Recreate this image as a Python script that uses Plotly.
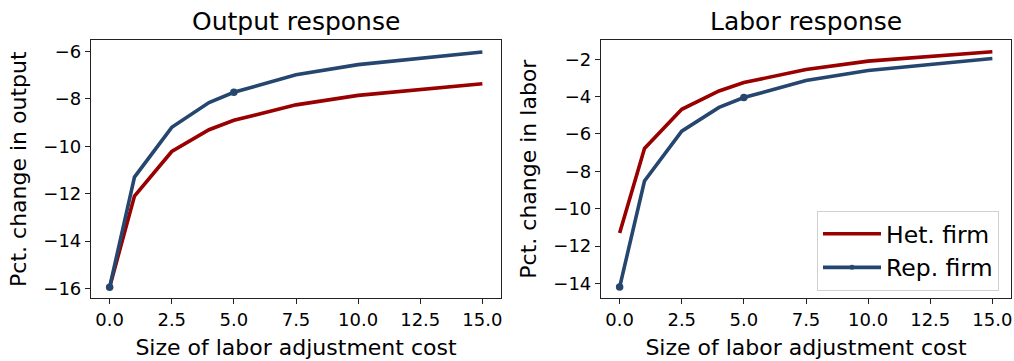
import plotly.graph_objects as go

# Size of the labor adjustment cost (x) and percentage responses (y)
cost = [0, 1, 2.5, 4, 5, 7.5, 10, 15]
output_het = [-15.95, -12.1, -10.22, -9.3, -8.9, -8.25, -7.85, -7.36]
output_rep = [-15.95, -11.3, -9.2, -8.15, -7.72, -6.98, -6.55, -6.02]
labor_het = [-11.3, -6.78, -4.68, -3.7, -3.25, -2.55, -2.1, -1.6]
labor_rep = [-14.2, -8.52, -5.85, -4.58, -4.05, -3.14, -2.6, -1.96]

x_ticks = [0, 2.5, 5, 7.5, 10, 12.5, 15]
output_ticks = [-16, -14, -12, -10, -8, -6]
labor_ticks = [-14, -12, -10, -8, -6, -4, -2]

series_names = ["Het. firm", "Rep. firm"]

RED = "#990000"
BLUE = "#25466f"
FONT = "DejaVu Sans"
W, H = 1014, 361
LW = 3.6

# rep-firm markers shown on every 4th point
rep_idx = [i for i in range(len(cost)) if i % 4 == 0]

fig = go.Figure()


def add_panel(het, rep, xa, ya):
    fig.add_trace(go.Scatter(
        x=cost, y=het, mode="lines", name=series_names[0],
        line=dict(color=RED, width=LW), xaxis=xa, yaxis=ya,
        showlegend=False))
    fig.add_trace(go.Scatter(
        x=cost, y=rep, mode="lines", name=series_names[1],
        line=dict(color=BLUE, width=LW), xaxis=xa, yaxis=ya,
        showlegend=False))
    fig.add_trace(go.Scatter(
        x=[cost[i] for i in rep_idx], y=[rep[i] for i in rep_idx],
        mode="markers", name=series_names[1],
        marker=dict(color=BLUE, size=7.5, opacity=1, line=dict(width=0)),
        xaxis=xa, yaxis=ya, showlegend=False))


add_panel(output_het, output_rep, "x", "y")
add_panel(labor_het, labor_rep, "x2", "y2")

# legend entries
fig.add_trace(go.Scatter(
    x=[None], y=[None], mode="lines", name=series_names[0],
    line=dict(color=RED, width=LW), xaxis="x2", yaxis="y2"))
fig.add_trace(go.Scatter(
    x=[None], y=[None], mode="lines+markers", name=series_names[1],
    line=dict(color=BLUE, width=LW),
    marker=dict(color=BLUE, size=5, opacity=1, line=dict(width=0)),
    xaxis="x2", yaxis="y2"))

px = lambda p: p / W
py = lambda p: (H - p) / H

axis_common = dict(
    showgrid=False, zeroline=False, showline=True, mirror=True,
    linecolor="#222222", linewidth=1.2, ticks="outside", ticklen=5,
    tickwidth=1.1, tickcolor="#222222",
    tickfont=dict(family=FONT, size=18, color="black"),
)

fig.update_layout(
    width=W, height=H,
    margin=dict(l=0, r=0, t=0, b=0),
    plot_bgcolor="white", paper_bgcolor="white",
    font=dict(family=FONT, color="black"),
    xaxis=dict(domain=[px(91), px(501)], range=[-0.75, 15.75],
               tickvals=x_ticks, tickformat=".1f", anchor="y",
               title=dict(text="Size of labor adjustment cost",
                          font=dict(size=22), standoff=10),
               **axis_common),
    yaxis=dict(domain=[py(298.3), py(40)], range=[-16.42, -5.51],
               tickvals=output_ticks, anchor="x",
               title=dict(text="Pct. change in output",
                          font=dict(size=22), standoff=10),
               **axis_common),
    xaxis2=dict(domain=[px(601), px(1011)], range=[-0.75, 15.75],
                tickvals=x_ticks, tickformat=".1f", anchor="y2",
                title=dict(text="Size of labor adjustment cost",
                           font=dict(size=22), standoff=10),
                **axis_common),
    yaxis2=dict(domain=[py(298.3), py(40)], range=[-14.8, -0.97],
                tickvals=labor_ticks, anchor="x2",
                title=dict(text="Pct. change in labor",
                           font=dict(size=22), standoff=10),
                **axis_common),
    legend=dict(
        x=px(999), y=py(291), xanchor="right", yanchor="bottom",
        bgcolor="white", bordercolor="#d0d0d0", borderwidth=1,
        font=dict(family=FONT, size=23.5, color="black"),
        itemsizing="trace", itemwidth=58,
    ),
    annotations=[
        dict(text="Output response", x=px(296), y=py(21), xref="paper",
             yref="paper", xanchor="center", yanchor="middle",
             showarrow=False, font=dict(family=FONT, size=25, color="black")),
        dict(text="Labor response", x=px(806), y=py(21), xref="paper",
             yref="paper", xanchor="center", yanchor="middle",
             showarrow=False, font=dict(family=FONT, size=25, color="black")),
    ],
)

fig.write_html("out.html")
